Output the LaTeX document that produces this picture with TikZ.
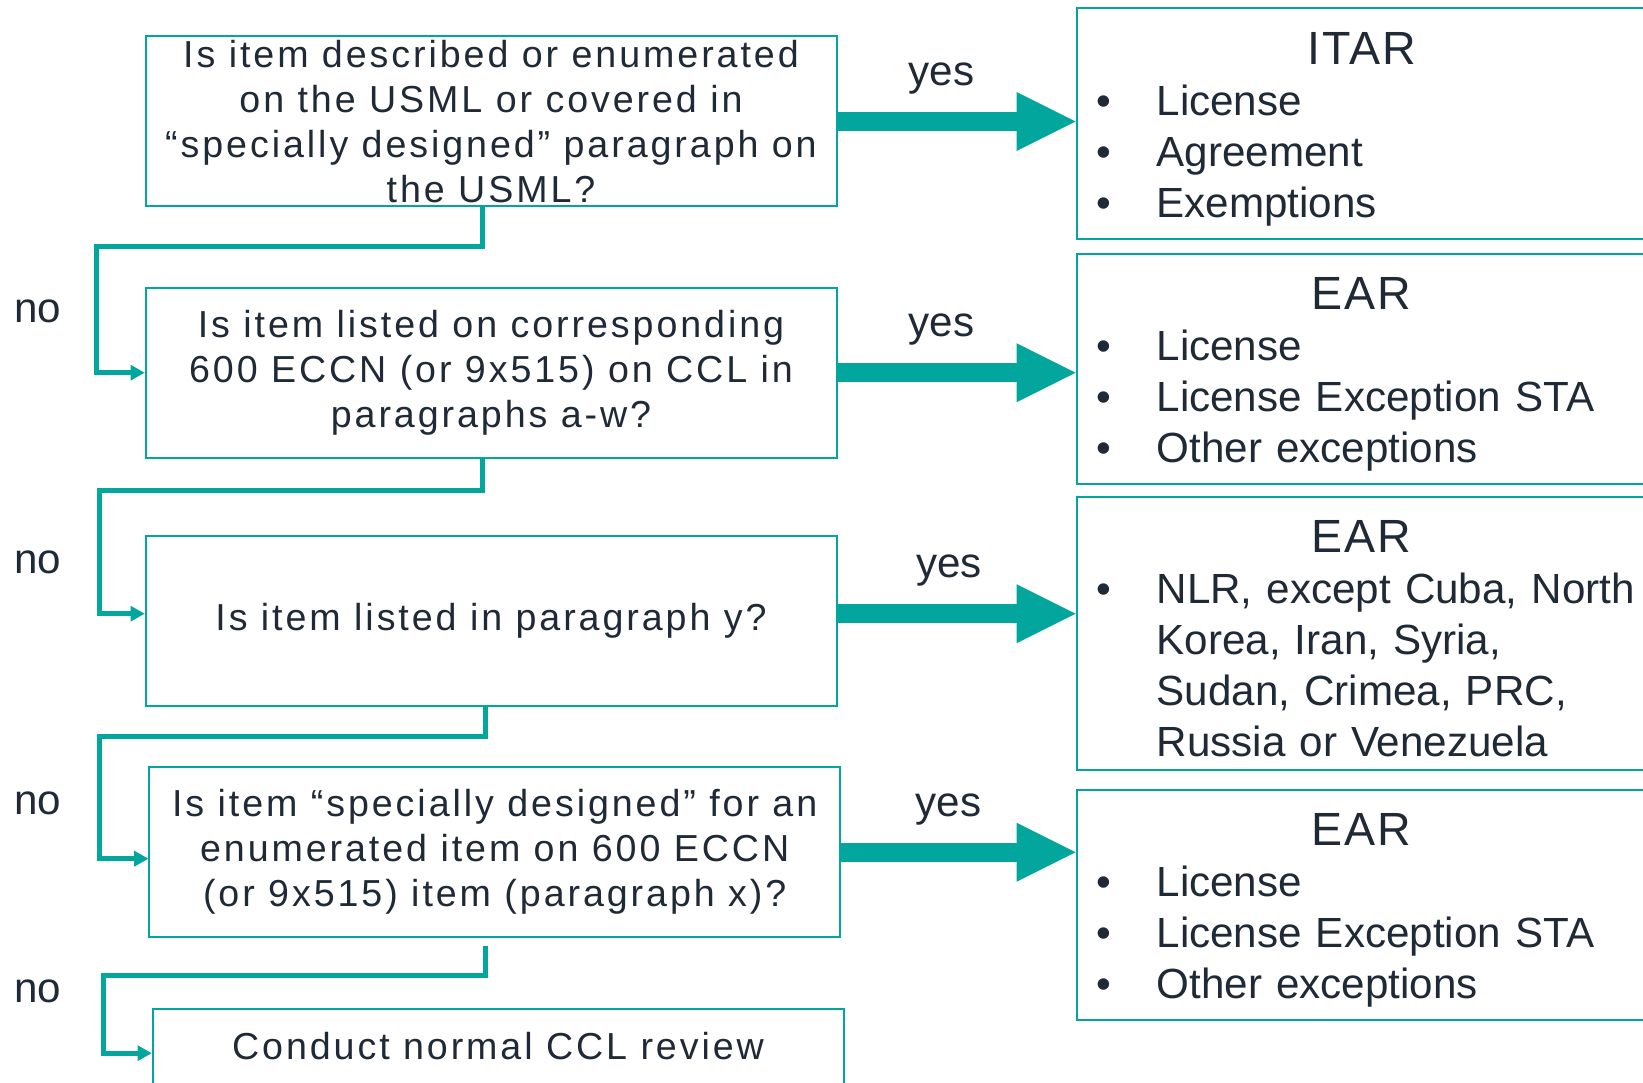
\documentclass[tikz,border=0pt]{standalone}
\usepackage{fontspec}
\setmainfont{Liberation Sans}
\newfontfamily\spacedfont[LetterSpace=7.8]{Liberation Sans}
\newfontfamily\titlefont[LetterSpace=4]{Liberation Sans}
\usepackage{xcolor}
\usetikzlibrary{positioning, arrows.meta}
\definecolor{flowteal}{HTML}{02A69C}
\definecolor{inkdark}{HTML}{1F2A36}
\newcommand{\bul}{\makebox[1.2cm][l]{\textbullet}}
\newcommand{\restitle}[1]{\rule{0pt}{0.86cm}\makebox[10.6cm][c]{\fontsize{26.5pt}{29pt}\titlefont #1}}

\begin{document}
\begin{tikzpicture}[
    % --- Global Settings ---
    % dark text for every node
    every node/.style={text=inkdark}
  ]

  % --- Style Definitions ---
  \tikzset{
    % question boxes on the left
    question/.style={
      draw=flowteal,
      line width=0.04cm,
      minimum width=13.82cm,
      minimum height=3.4cm,
      inner ysep=0pt,
      align=center,
      font=\fontsize{21.4pt}{25.6pt}\spacedfont
    },
    % result boxes on the right
    result/.style={
      draw=flowteal,
      line width=0.04cm,
      anchor=north west,
      text width=11.2cm,
      inner xsep=0.4cm,
      inner ysep=0pt,
      align=left,
      font=\fontsize{24pt}{29pt}\selectfont
    },
    % yes / no labels
    answer/.style={
      font=\fontsize{24pt}{29pt}\selectfont
    },
    % big arrows into the results
    yesarrow/.style={
      draw=flowteal,
      line width=0.38cm,
      -{Triangle[length=1.18cm, width=1.18cm, line width=0pt]}
    },
    % thin elbow arrows down the chain
    noarrow/.style={
      draw=flowteal,
      line width=0.1cm,
      -{Triangle[length=0.28cm, width=0.32cm, line width=0pt]}
    }
  }

  \useasboundingbox (0,0) rectangle (32.86,-21.66);

  % --- Question chain ---
  \node[question] (q1) at (9.82,-2.43)
    {Is item described or enumerated\\ on the USML or covered in\\ “specially designed” paragraph on\\ the USML?};
  \node[question, below=1.584cm of q1] (q2)
    {Is item listed on corresponding\\ 600 ECCN (or 9x515) on CCL in\\ paragraphs a-w?};
  \node[question, below=1.52cm of q2] (q3) {Is item listed in paragraph y?};
  \node[question, below=1.19cm of q3, xshift=0.074cm] (q4)
    {Is item “specially designed” for an\\ enumerated item on 600 ECCN\\ (or 9x515) item (paragraph x)?};
  \node[question, below=1.4cm of q4, xshift=0.066cm, minimum height=1.76cm, text depth=0.28cm] (q5)
    {Conduct normal CCL review};

  % --- Results ---
  \node[result, minimum height=4.608cm] (itar) at (21.512,-0.146)
    {\restitle{ITAR}\\ \bul License\\ \bul Agreement\\ \bul Exemptions};
  \node[result, minimum height=4.6cm] (ear1) at (21.512,-5.066)
    {\restitle{EAR}\\ \bul License\\ \bul License Exception STA\\ \bul Other exceptions};
  \node[result, minimum height=5.446cm] (ear2) at (21.512,-9.924)
    {\restitle{EAR}\\ \bul NLR, except Cuba, North\\ \hspace*{1.2cm}Korea, Iran, Syria,\\
     \hspace*{1.2cm}Sudan, Crimea, PRC,\\ \hspace*{1.2cm}Russia or Venezuela};
  \node[result, minimum height=4.594cm] (ear3) at (21.512,-15.776)
    {\restitle{EAR}\\ \bul License\\ \bul License Exception STA\\ \bul Other exceptions};

  % --- yes arrows ---
  \draw[yesarrow] (q1.east) -- (q1.east -| itar.west)
    node[answer, midway, yshift=0.86cm, xshift=-0.3cm] (yes1) {yes};
  \draw[yesarrow] (q2.east) -- (q2.east -| ear1.west)
    node[answer, midway, yshift=0.86cm, xshift=-0.3cm] (yes2) {yes};
  \draw[yesarrow] ([yshift=0.14cm]q3.east) -- ([yshift=0.14cm]q3.east -| ear2.west)
    node[answer, midway, yshift=0.86cm, xshift=-0.15cm] (yes3) {yes};
  \draw[yesarrow] (q4.east) -- (q4.east -| ear3.west)
    node[answer, midway, yshift=0.86cm, xshift=-0.2cm] (yes4) {yes};

  % --- no labels ---
  \node[answer] (no1) at (0.756,-6.234) {no};
  \node[answer] (no2) at (0.756,-11.254) {no};
  \node[answer] (no3) at (0.756,-16.06) {no};
  \node[answer] (no4) at (0.756,-19.83) {no};

  % --- no arrows ---
  \draw[noarrow] ([xshift=-0.17cm]q1.south) -- ++(0,-0.78) -| ([xshift=-0.96cm]q2.west) -- (q2.west);
  \draw[noarrow] ([xshift=-0.17cm]q2.south) -- ++(0,-0.64) -| ([xshift=-0.9cm, yshift=0.14cm]q3.west)
    -- ([yshift=0.14cm]q3.west);
  \draw[noarrow] ([xshift=-0.11cm]q3.south) -- ++(0,-0.6) -| ([xshift=-0.98cm, yshift=-0.13cm]q4.west)
    -- ([yshift=-0.13cm]q4.west);
  \draw[noarrow] ([xshift=-0.19cm, yshift=-0.15cm]q4.south) -- ++(0,-0.59) -| ([xshift=-0.97cm]q5.west)
    -- (q5.west);

\end{tikzpicture}
\end{document}
